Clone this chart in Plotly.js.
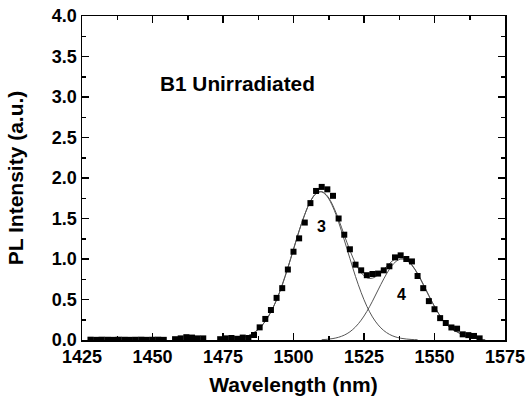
<!DOCTYPE html>
<html><head><meta charset="utf-8">
<script src="https://cdn.plot.ly/plotly-3.0.1.min.js"></script>
<style>html,body{margin:0;padding:0;background:#fff}#chart{width:529px;height:396px}</style>
</head><body><div id="chart"></div>
<script>
// measured PL spectrum (squares)
const wavelength = [1428,1430,1432,1434,1436,1438,1440,1442,1444,1446,1448,1450,1452,1454,
  1458,1460,1462,1464,1466,1468,
  1474,1476,1478,1480,1482,1484,
  1486,1488,1490,1492,1494,1496,1498,1500,1502,1504,1506,1508,1510,1512,1514,1516,1518,1520,
  1522,1524,1526,1528,1530,1532,1534,1536,1538,1540,1542,1544,1546,1548,1550,1552,1554,1556,
  1558,1560,1562,1564,1566];
const intensity = [0.004,0.002,0.004,0.003,0.002,0.004,0.003,0.002,0.003,0.004,0.002,0.003,0.004,0.002,
  0.01,0.02,0.035,0.03,0.02,0.02,
  0.01,0.02,0.025,0.015,0.03,0.025,
  0.062,0.156,0.26,0.37,0.52,0.64,0.87,1.09,1.255,1.45,1.69,1.84,1.89,1.86,1.78,1.50,1.30,1.12,
  0.93,0.86,0.80,0.815,0.82,0.86,0.91,1.02,1.045,1.00,0.97,0.79,0.64,0.48,0.38,0.27,0.21,0.155,
  0.14,0.07,0.06,0.05,0.02];

// fitted peak 3
const fit3X = [1480,1482,1484,1486,1488,1490,1492,1494,1496,1498,1500,1502,1504,1506,1508,1510,1512,
  1514,1516,1518,1520,1522,1524,1526,1528,1530,1532,1534,1536,1538,1540,1542,1544];
const fit3Y = [0.016,0.030,0.054,0.091,0.149,0.232,0.348,0.496,0.68,0.892,1.12,1.348,1.55,1.712,1.808,1.828,1.769,
  1.640,1.455,1.235,1.007,0.783,0.585,0.417,0.285,0.187,0.117,0.07,0.040,0.022,0.012,0.006,0.003];

// fitted peak 4
const fit4X = [1510,1512,1514,1516,1518,1520,1522,1524,1526,1528,1530,1532,1534,1536,1538,1540,1542,
  1544,1546,1548,1550,1552,1554,1556,1558,1560,1562,1564,1566,1568];
const fit4Y = [0.004,0.009,0.018,0.034,0.060,0.101,0.162,0.245,0.352,0.479,0.618,0.754,0.873,0.959,0.998,0.985,0.921,
  0.817,0.687,0.547,0.413,0.296,0.201,0.14,0.10,0.065,0.04,0.022,0.01,0.004];

// total fit
const sumX = [1480,1482,1484,1486,1488,1490,1492,1494,1496,1498,1500,1502,1504,1506,1508,1510,1512,1514,
  1516,1518,1520,1522,1524,1526,1528,1530,1532,1534,1536,1538,1540,1542,1544,1546,1548,1550,1552,1554,
  1556,1558,1560,1562,1564,1566];
const sumY = [0.016,0.030,0.054,0.091,0.149,0.232,0.348,0.496,0.68,0.892,1.12,1.348,1.55,1.712,1.808,1.832,1.778,1.658,
  1.489,1.295,1.108,0.945,0.83,0.769,0.764,0.805,0.871,0.943,0.999,1.020,0.997,0.927,0.82,0.687,0.547,0.413,0.296,0.201,
  0.14,0.10,0.065,0.04,0.022,0.01];

const sampleLabel = 'B1 Unirradiated';
const peakLabels = ['3','4'];
const peakLabelX = [1509.8,1538.4];
const peakLabelY = [1.40,0.556];

const fitLine = {color:'#555', width:1, shape:'spline'};
const traces = [
  {x:fit3X, y:fit3Y, mode:'lines', line:fitLine, hoverinfo:'skip'},
  {x:fit4X, y:fit4Y, mode:'lines', line:fitLine, hoverinfo:'skip'},
  {x:sumX, y:sumY, mode:'lines', line:fitLine, hoverinfo:'skip'},
  {x:wavelength, y:intensity, mode:'markers', marker:{symbol:'square', size:6, color:'#000'}, cliponaxis:true}
];

const fam = 'Arial, "Liberation Sans", sans-serif';
const tf = {family:fam, size:18, color:'#000', weight:'bold'};
const axBase = {showline:true, linecolor:'#000', linewidth:1.5, mirror:'ticks', ticks:'inside', ticklen:7,
  tickwidth:1.5, tickcolor:'#000', showgrid:false, zeroline:false, tickfont:tf, automargin:false};

const annotations = [
  {x:1452, y:3.17, xref:'x', yref:'y', text:sampleLabel, showarrow:false, xanchor:'left', yanchor:'middle',
   font:{family:fam, size:20.8, color:'#000', weight:'bold'}}
];
peakLabels.forEach((t,i)=>annotations.push({x:peakLabelX[i], y:peakLabelY[i], xref:'x', yref:'y', text:t,
  showarrow:false, xanchor:'center', yanchor:'middle', font:{family:fam, size:16, color:'#000', weight:'bold'}}));

const layout = {
  width:529, height:396, margin:{l:82, r:24, t:16, b:56},
  paper_bgcolor:'#fff', plot_bgcolor:'#fff', showlegend:false,
  xaxis:Object.assign({}, axBase, {range:[1425,1575], tick0:1425, dtick:25,
    minor:{dtick:12.5, ticks:'inside', ticklen:4, tickwidth:1.5, tickcolor:'#000', showgrid:false},
    title:{text:'Wavelength (nm)', font:{family:fam, size:21, color:'#000', weight:'bold'}, standoff:20}}),
  yaxis:Object.assign({}, axBase, {range:[0,4], tick0:0, dtick:0.5, tickformat:'.1f',
    minor:{dtick:0.25, ticks:'inside', ticklen:4, tickwidth:1.5, tickcolor:'#000', showgrid:false},
    title:{text:'PL Intensity (a.u.)', font:{family:fam, size:21, color:'#000', weight:'bold'}, standoff:22}}),
  annotations:annotations
};
Plotly.newPlot('chart', traces, layout, {displayModeBar:false, staticPlot:true});
</script></body></html>
